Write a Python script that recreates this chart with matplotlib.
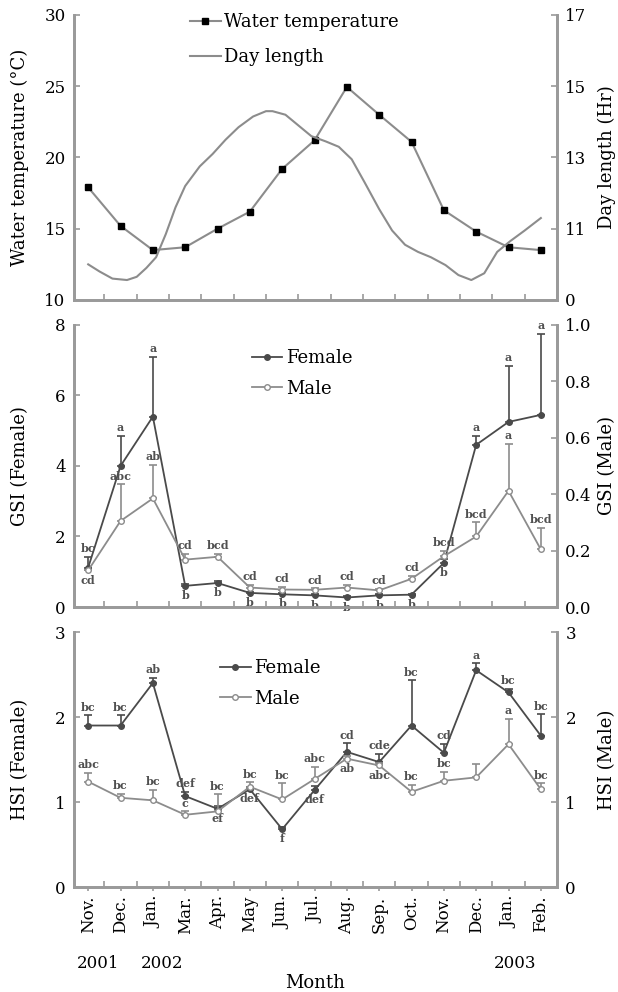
import numpy as np
import matplotlib
matplotlib.use('Agg')
import matplotlib.pyplot as plt

plt.rcParams['font.family'] = ['DejaVu Serif']
plt.rcParams['font.size'] = 12

months = ['Nov.', 'Dec.', 'Jan.', 'Mar.', 'Apr.', 'May', 'Jun.', 'Jul.',
          'Aug.', 'Sep.', 'Oct.', 'Nov.', 'Dec.', 'Jan.', 'Feb.']
years = ['2001', '2002', '2003']
year_pos = [0.3, 2.3, 13.2]
x = np.arange(len(months))

# top panel
water_temp = [17.9, 15.2, 13.5, 13.7, 15.0, 16.2, 19.2, 21.2, 24.95, 23.0,
              21.1, 16.3, 14.8, 13.7, 13.5]
day_x = [0, 0.35, 0.75, 1.2, 1.5, 1.8, 2.1, 2.4, 2.7, 3.0, 3.45, 3.85, 4.25,
         4.65, 5.1, 5.5, 5.7, 6.1, 6.5, 6.9, 7.35, 7.75, 8.15, 8.55, 9.0, 9.4,
         9.8, 10.2, 10.6, 11.05, 11.45, 11.85, 12.25, 12.65, 13.05, 13.5, 14.0]
day_len = [10.0, 9.8, 9.6, 9.56, 9.65, 9.9, 10.2, 10.85, 11.6, 12.2, 12.75,
           13.1, 13.5, 13.85, 14.15, 14.3, 14.3, 14.2, 13.9, 13.6, 13.45, 13.3,
           12.95, 12.3, 11.55, 10.95, 10.55, 10.35, 10.2, 9.98, 9.7, 9.56, 9.75,
           10.35, 10.65, 10.95, 11.3]

# GSI
gsi_f = [1.12, 4.0, 5.4, 0.6, 0.68, 0.40, 0.36, 0.33, 0.27, 0.33, 0.35, 1.25,
         4.6, 5.25, 5.45]
gsi_f_err = [0.3, 0.85, 1.7, 0.05, 0.05, 0.03, 0.03, 0.03, 0.03, 0.03, 0.03,
             0.1, 0.25, 1.6, 2.3]
gsi_f_let = ['bc', 'a', 'a', 'b', 'b', 'b', 'b', 'b', 'b', 'b', 'b', 'b', 'a', 'a', 'a']
gsi_f_side = ['a', 'a', 'a', 'b', 'b', 'b', 'b', 'b', 'b', 'b', 'b', 'b', 'a', 'a', 'a']
gsi_m = [0.13, 0.305, 0.385, 0.168, 0.178, 0.069, 0.062, 0.061, 0.069, 0.059,
         0.10, 0.18, 0.25, 0.412, 0.204]
gsi_m_err = [0.0, 0.13, 0.12, 0.02, 0.01, 0.01, 0.01, 0.005, 0.01, 0.005, 0.01,
             0.02, 0.05, 0.165, 0.076]
gsi_m_let = ['cd', 'abc', 'ab', 'cd', 'bcd', 'cd', 'cd', 'cd', 'cd', 'cd', 'cd',
             'bcd', 'bcd', 'a', 'bcd']
gsi_m_side = ['b', 'a', 'a', 'a', 'a', 'a', 'a', 'a', 'a', 'a', 'a', 'a', 'a', 'a', 'a']

# HSI
hsi_f = [1.90, 1.90, 2.40, 1.07, 0.92, 1.15, 0.68, 1.14, 1.59, 1.47, 1.90,
         1.58, 2.55, 2.29, 1.78]
hsi_f_err = [0.12, 0.12, 0.06, 0.05, 0.03, 0.03, 0.03, 0.05, 0.1, 0.1, 0.53,
             0.1, 0.08, 0.04, 0.25]
hsi_f_let = ['bc', 'bc', 'ab', 'def', 'ef', 'def', 'f', 'def', 'cd', 'cde', 'bc',
             'cd', 'a', 'bc', 'bc']
hsi_f_side = ['a', 'a', 'a', 'a', 'b', 'b', 'b', 'b', 'a', 'a', 'a', 'a', 'a', 'a', 'a']
hsi_m = [1.24, 1.05, 1.02, 0.85, 0.89, 1.18, 1.03, 1.27, 1.51, 1.43, 1.12,
         1.25, 1.29, 1.68, 1.15]
hsi_m_err = [0.1, 0.05, 0.12, 0.04, 0.2, 0.05, 0.19, 0.14, 0.03, 0.03, 0.08,
             0.1, 0.16, 0.3, 0.07]
hsi_m_let = ['abc', 'bc', 'bc', 'c', 'bc', 'bc', 'bc', 'abc', 'ab', 'abc', 'bc',
             'bc', '', 'a', 'bc']
hsi_m_side = ['a', 'a', 'a', 'a', 'a', 'a', 'a', 'a', 'b', 'b', 'a', 'a', 'a', 'a', 'a']

SPINE = '#9a9a9a'
FCOL = '#4a4a4a'
MCOL = '#8c8c8c'


def style(ax, right=False):
    ax.spines['top'].set_visible(False)
    for s in ['left', 'right', 'bottom']:
        ax.spines[s].set_color(SPINE)
        ax.spines[s].set_linewidth(2)
    ax.tick_params(axis='y', direction='in', length=4, width=1.2, color=SPINE,
                   labelsize=12, pad=6)
    ax.set_xlim(-0.44, 14.42)
    ax.set_xticks(x + 0.5, minor=True)
    ax.set_xticks([])
    ax.tick_params(axis='x', which='minor', direction='in', length=4, width=1.2,
                   color=SPINE)


def series(ax, vals, err, lets, sides, color, mfc, label):
    ln, = ax.plot(x, vals, color=color, lw=1.3, marker='o', ms=4, mfc=mfc,
                  mec=color, label=label, zorder=3)
    ax.errorbar(x, vals, yerr=[np.zeros(len(err)), err], fmt='none',
                ecolor=color, elinewidth=1.2, capsize=3, capthick=1.2)
    for xi, v, e, t, s in zip(x, vals, err, lets, sides):
        if s == 'a':
            ax.annotate(t, (xi, v + e), xytext=(0, 2), textcoords='offset points',
                        ha='center', va='bottom', fontsize=8, fontweight='bold',
                        color='#505050')
        else:
            ax.annotate(t, (xi, v), xytext=(0, -3), textcoords='offset points',
                        ha='center', va='top', fontsize=8, fontweight='bold',
                        color='#505050')
    return ln


def labels(ax, axr, left, right):
    ax.set_ylabel(left, fontsize=13)
    axr.set_ylabel(right, fontsize=13, rotation=90, va='center')
    ax.yaxis.set_label_coords(-0.112, 0.5)
    ax.yaxis.label.set_va('center')
    axr.yaxis.set_label_coords(1.104, 0.5)


fig = plt.figure(figsize=(6.18, 9.92), dpi=100)
L, W = 0.1197, 0.7816

# ---- top panel
ax1 = fig.add_axes([L, 0.6976, W, 0.2873])
ax1b = ax1.twinx()
style(ax1)
style(ax1b)
ax1.set_ylim(10, 30)
ax1.set_yticks([10, 15, 20, 25, 30])
ax1b.set_ylim(9, 17)
ax1b.set_yticks([9, 11, 13, 15, 17])
ax1b.set_yticklabels(['0', '11', '13', '15', '17'])
l1, = ax1.plot(x, water_temp, color=MCOL, lw=1.5, marker='s', ms=4,
               mfc='black', mec='black', label='Water temperature')
l2, = ax1b.plot(day_x, day_len, color=MCOL, lw=1.5, label='Day length')
labels(ax1, ax1b, 'Water temperature (°C)', 'Day length (Hr)')
ax1b.legend([l1, l2], ['Water temperature', 'Day length'], loc='upper left',
            bbox_to_anchor=(0.24, 1.007), frameon=False, fontsize=13,
            handlelength=1.7, handletextpad=0.2, labelspacing=0.95,
            borderpad=0, borderaxespad=0)

# ---- middle panel
ax2 = fig.add_axes([L, 0.3881, W, 0.2843])
ax2b = ax2.twinx()
style(ax2)
style(ax2b)
ax2.set_ylim(0, 8)
ax2.set_yticks([0, 2, 4, 6, 8])
ax2b.set_ylim(0, 1.0)
ax2b.set_yticks([0.0, 0.2, 0.4, 0.6, 0.8, 1.0])
ax2b.set_yticklabels(['0.0', '0.2', '0.4', '0.6', '0.8', '1.0'])
f2 = series(ax2, gsi_f, gsi_f_err, gsi_f_let, gsi_f_side, FCOL, FCOL, 'Female')
m2 = series(ax2b, gsi_m, gsi_m_err, gsi_m_let, gsi_m_side, MCOL, 'white', 'Male')
labels(ax2, ax2b, 'GSI (Female)', 'GSI (Male)')
ax2b.legend([f2, m2], ['Female', 'Male'], loc='upper left',
            bbox_to_anchor=(0.368, 0.915), frameon=False, fontsize=13,
            handlelength=1.7, handletextpad=0.2, labelspacing=0.7,
            borderpad=0, borderaxespad=0)

# ---- bottom panel
ax3 = fig.add_axes([L, 0.1058, W, 0.2571])
ax3b = ax3.twinx()
style(ax3)
style(ax3b)
ax3.set_ylim(0, 3)
ax3.set_yticks([0, 1, 2, 3])
ax3b.set_ylim(0, 3)
ax3b.set_yticks([0, 1, 2, 3])
f3 = series(ax3, hsi_f, hsi_f_err, hsi_f_let, hsi_f_side, FCOL, FCOL, 'Female')
m3 = series(ax3b, hsi_m, hsi_m_err, hsi_m_let, hsi_m_side, MCOL, 'white', 'Male')
labels(ax3, ax3b, 'HSI (Female)', 'HSI (Male)')
ax3b.legend([f3, m3], ['Female', 'Male'], loc='upper left',
            bbox_to_anchor=(0.302, 0.894), frameon=False, fontsize=13,
            handlelength=1.7, handletextpad=0.2, labelspacing=0.7,
            borderpad=0, borderaxespad=0)

ax3.set_xticks(x)
ax3.set_xticklabels(months, rotation=90, fontsize=12)
ax3.tick_params(axis='x', which='major', direction='out', length=3, width=1.2,
                color=SPINE, pad=3)
for yr, p in zip(years, year_pos):
    ax3.text(p, -0.298, yr, transform=ax3.get_xaxis_transform(), ha='center',
             va='center', fontsize=12)
ax3.text(0.5, -0.376, 'Month', transform=ax3.transAxes, ha='center',
         va='center', fontsize=13)

fig.savefig('out.png', dpi=100)
